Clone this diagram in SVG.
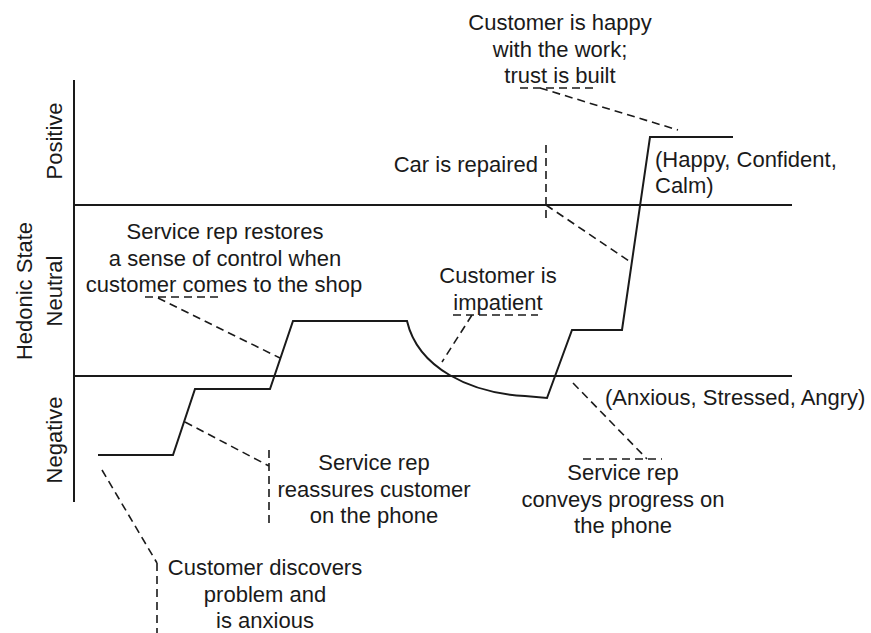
<svg xmlns="http://www.w3.org/2000/svg" width="871" height="633" viewBox="0 0 871 633">
<style>
text{font-family:"Liberation Sans",Arial,sans-serif;font-size:22px;fill:#1a1a1a}
.m{text-anchor:middle}
.e{text-anchor:end}
.ln{fill:none;stroke:#1a1a1a;stroke-width:2}
.ld{fill:none;stroke:#1a1a1a;stroke-width:1.6;stroke-dasharray:8,5}
</style>
<rect width="871" height="633" fill="#fff"/>
<g id="axes">
<line class="ln" x1="74" y1="80" x2="74" y2="502"/>
<line class="ln" x1="74" y1="205" x2="792" y2="205"/>
<line class="ln" x1="74" y1="376" x2="792" y2="376"/>
<text class="m" transform="translate(32,291) rotate(-90)">Hedonic State</text>
<text class="m" transform="translate(62,141) rotate(-90)">Positive</text>
<text class="m" transform="translate(62,291) rotate(-90)">Neutral</text>
<text class="m" transform="translate(62,440) rotate(-90)">Negative</text>
</g>
<g id="journey">
<path class="ln" d="M98,455 L173,455 L195,389 L270,389 L293,321 L407,321 C418,368 470,393 525,396 L547,398 L572,330 L622,330 L650,137 L733,137"/>
</g>
<g id="connectors">
<path class="ld" d="M520,88 L598,88 M540,88 L678,130"/>
<path class="ld" d="M546,145 L546,222 M546,205 L632,263"/>
<path class="ld" d="M453,315 L538,315 M472,315 L442,362"/>
<path class="ld" d="M145,297 L223,297 M158,298 L280,358"/>
<path class="ld" d="M185,422 L269,466 M269,450 L269,528"/>
<path class="ld" d="M102,470 L157,563 M157,563 L157,633"/>
<path class="ld" d="M573,383 L647,459 M583,459 L662,459"/>
</g>
<g id="label-happy">
<text class="m" x="560" y="30">Customer is happy</text>
<text class="m" x="560" y="57">with the work;</text>
<text class="m" x="560" y="83">trust is built</text>
</g>
<g id="label-repaired">
<text class="e" x="538" y="172">Car is repaired</text>
</g>
<g id="label-positive-states">
<text x="655" y="167">(Happy, Confident,</text>
<text x="655" y="193">Calm)</text>
</g>
<g id="label-restores">
<text class="m" x="225" y="239">Service rep restores</text>
<text class="m" x="225" y="266">a sense of control when</text>
<text class="m" x="224" y="292">customer comes to the shop</text>
</g>
<g id="label-impatient">
<text class="m" x="498" y="283">Customer is</text>
<text class="m" x="498" y="310">impatient</text>
</g>
<g id="label-negative-states">
<text x="605" y="405">(Anxious, Stressed, Angry)</text>
</g>
<g id="label-reassures">
<text class="m" x="374" y="470">Service rep</text>
<text class="m" x="374" y="497">reassures customer</text>
<text class="m" x="374" y="523">on the phone</text>
</g>
<g id="label-progress">
<text class="m" x="623" y="480">Service rep</text>
<text class="m" x="623" y="507">conveys progress on</text>
<text class="m" x="623" y="533">the phone</text>
</g>
<g id="label-discovers">
<text class="m" x="265" y="575">Customer discovers</text>
<text class="m" x="265" y="602">problem and</text>
<text class="m" x="265" y="628">is anxious</text>
</g>
</svg>
